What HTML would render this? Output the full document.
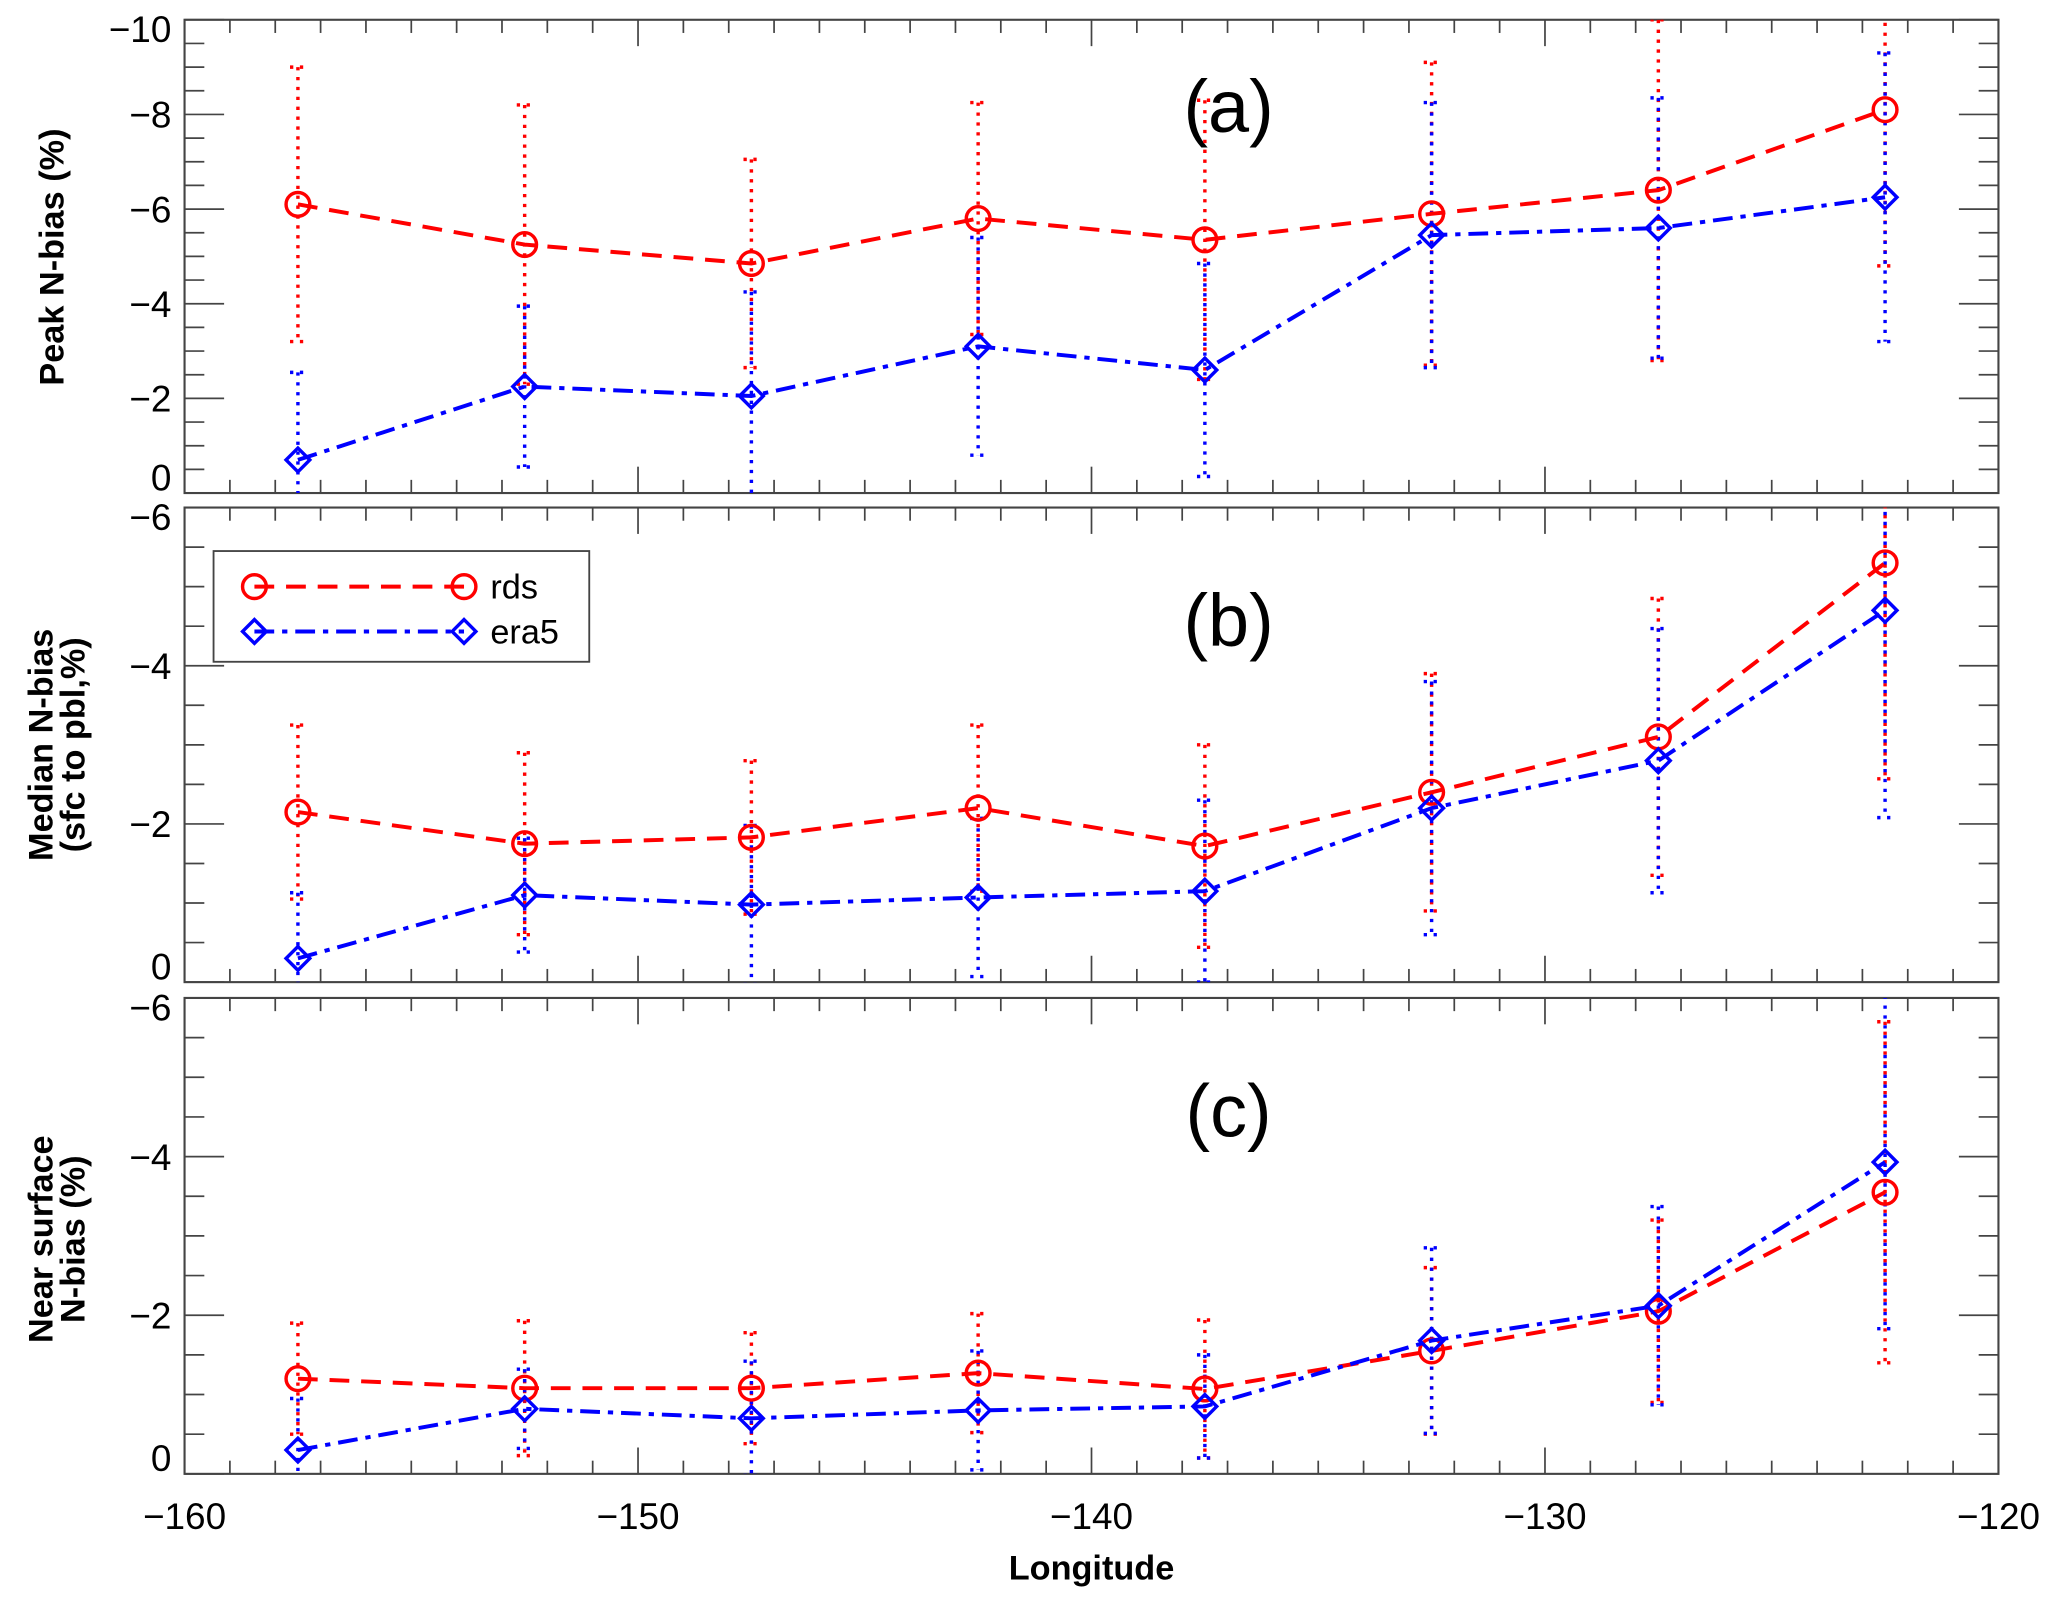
<!DOCTYPE html>
<html><head><meta charset="utf-8"><style>
html,body{margin:0;padding:0;background:#fff;}
svg{display:block;}
text{font-family:"Liberation Sans","DejaVu Sans",sans-serif;fill:#000;}
.ttl{font-family:"Liberation Sans",sans-serif;font-weight:bold;}
</style></head><body>
<svg id="chart" width="2067" height="1607" viewBox="0 0 1568 1219" preserveAspectRatio="none" xmlns="http://www.w3.org/2000/svg"></svg>
<script>
const categories = [-157.5,-152.5,-147.5,-142.5,-137.5,-132.5,-127.5,-122.5];
const xTicks = [-160,-150,-140,-130,-120];
const aYTicks = [-10,-8,-6,-4,-2,0];
const bYTicks = [-6,-4,-2,0];
const cYTicks = [-6,-4,-2,0];
const aRds = [-6.1,-5.25,-4.85,-5.8,-5.35,-5.9,-6.4,-8.1];
const aRdsSd = [2.9,2.95,2.2,2.45,2.95,3.2,3.6,3.3];
const aEra = [-0.7,-2.25,-2.05,-3.1,-2.6,-5.45,-5.6,-6.25];
const aEraSd = [1.85,1.7,2.2,2.3,2.25,2.8,2.75,3.05];
const bRds = [-2.15,-1.75,-1.83,-2.2,-1.72,-2.4,-3.1,-5.3];
const bRdsSd = [1.1,1.15,0.97,1.05,1.28,1.5,1.75,2.73];
const bEra = [-0.3,-1.1,-0.98,-1.07,-1.15,-2.2,-2.8,-4.7];
const bEraSd = [0.83,0.72,1.0,1.0,1.15,1.6,1.67,2.62];
const cRds = [-1.2,-1.08,-1.08,-1.27,-1.07,-1.55,-2.05,-3.55];
const cRdsSd = [0.7,0.85,0.7,0.75,0.87,1.05,1.15,2.15];
const cEra = [-0.3,-0.82,-0.7,-0.8,-0.85,-1.68,-2.12,-3.93];
const cEraSd = [0.65,0.5,0.72,0.75,0.65,1.17,1.25,2.1];

const NS="http://www.w3.org/2000/svg";
const svg=document.getElementById('chart');
function mk(tag,attrs,parent){const e=document.createElementNS(NS,tag);for(const k in attrs)e.setAttribute(k,attrs[k]);(parent||svg).appendChild(e);return e;}
const X0=140,X1=1516,XMIN=-160,XMAX=-120;
function xs(v){return X0+(v-XMIN)/(XMAX-XMIN)*(X1-X0);}

const panels=[
 {id:'a',top:15,bot:374,ymin:-10,ticks:aYTicks,rds:aRds,rsd:aRdsSd,era:aEra,esd:aEraSd,label:'(a)',ly:100},
 {id:'b',top:385,bot:745,ymin:-6,ticks:bYTicks,rds:bRds,rsd:bRdsSd,era:bEra,esd:bEraSd,label:'(b)',ly:490},
 {id:'c',top:757,bot:1118,ymin:-6,ticks:cYTicks,rds:cRds,rsd:cRdsSd,era:cEra,esd:cEraSd,label:'(c)',ly:862}
];
panels.forEach(p=>{
 const ys=v=>p.top+(v-p.ymin)/(0-p.ymin)*(p.bot-p.top);
 const g=mk('g',{});
 
 
 const clipId='clip'+p.id;
 const cp=mk('clipPath',{id:clipId},g);mk('rect',{x:X0,y:p.top,width:X1-X0,height:p.bot-p.top},cp);
 const frame=mk('rect',{x:X0,y:p.top,width:X1-X0,height:p.bot-p.top,fill:'none',stroke:'#444','stroke-width':1.6},g);
 
 
 for(let v=XMIN;v<=XMAX;v+=1){
  const L=(v%10===0)?20:10,x=xs(v);
  mk('line',{x1:x,y1:p.bot,x2:x,y2:p.bot-L,stroke:'#444','stroke-width':1.3},g);
  mk('line',{x1:x,y1:p.top,x2:x,y2:p.top+L,stroke:'#444','stroke-width':1.3},g);
 }
 for(let v=p.ymin;v<=0.001;v+=0.5){
  const maj=Math.abs(v/2-Math.round(v/2))<1e-6;const L=maj?30:15,y=ys(v);
  mk('line',{x1:X0,y1:y,x2:X0+L,y2:y,stroke:'#444','stroke-width':1.3},g);
  mk('line',{x1:X1,y1:y,x2:X1-L,y2:y,stroke:'#444','stroke-width':1.3},g);
 }
 p.ticks.forEach((v,i)=>{
  let y=ys(v)+10; if(i===0) y=ys(v)+17; if(v===0) y=ys(v)-2;
  const t=mk('text',{x:130,y:y,'text-anchor':'end','font-size':28},g);
  t.textContent=v===0?'0':'\u2212'+Math.abs(v);
  
  
 });
 const pl=mk('text',{x:932,y:p.ly,'text-anchor':'middle','font-size':56,'font-weight':'300'},g);
 pl.textContent=p.label;
 
 
 const inner=mk('g',{'clip-path':'url(#'+clipId+')'},g);
 const series=[{v:p.rds,sd:p.rsd,c:'#ff0000',n:'rds'},{v:p.era,sd:p.esd,c:'#0000ff',n:'era5'}];
 series.forEach(s=>{
  s.v.forEach((v,i)=>{
   const x=xs(categories[i]),y1=ys(v-s.sd[i]),y2=ys(v+s.sd[i]);
   const eb=mk('line',{x1:x,y1:y1,x2:x,y2:y2,stroke:s.c,'stroke-width':2.6,'stroke-dasharray':'2.5,5'},inner);
   
   
   [y1,y2].forEach(yy=>{mk('line',{x1:x-6,y1:yy,x2:x+6,y2:yy,stroke:s.c,'stroke-width':2.6,'stroke-dasharray':'2.5,5'},inner);});
  });
 });
 series.forEach(s=>{
  const pts=s.v.map((v,i)=>xs(categories[i])+','+ys(v)).join(' ');
  const ln=mk('polyline',{points:pts,fill:'none',stroke:s.c,'stroke-width':3,'stroke-dasharray':s.n==='rds'?'15,9':'15,6,4,6'},inner);
  
  
  s.v.forEach((v,i)=>{
   const x=xs(categories[i]),y=ys(v);let m;
   if(s.n==='rds') m=mk('circle',{cx:x,cy:y,r:9,fill:'none',stroke:s.c,'stroke-width':2.6},inner);
   else m=mk('polygon',{points:`${x},${y-9} ${x+9},${y} ${x},${y+9} ${x-9},${y}`,fill:'none',stroke:s.c,'stroke-width':2.6},inner);
   
   
  });
 });
});
xTicks.forEach(v=>{
 const t=mk('text',{x:xs(v),y:1160,'text-anchor':'middle','font-size':28});
 t.textContent='\u2212'+Math.abs(v);
 
 
});
</script>
<svg style="position:absolute;left:0;top:0" width="2067" height="1607" viewBox="0 0 1568 1219" preserveAspectRatio="none">
 <text class="ttl" x="828" y="1198" text-anchor="middle" font-size="26">Longitude</text>
 <text class="ttl" transform="translate(48,195) rotate(-90)" text-anchor="middle" font-size="26">Peak N-bias (%)</text>
 <text class="ttl" transform="translate(40,565) rotate(-90)" text-anchor="middle" font-size="26">Median N-bias</text>
 <text class="ttl" transform="translate(64,565) rotate(-90)" text-anchor="middle" font-size="26">(sfc to pbl,%)</text>
 <text class="ttl" transform="translate(40,940) rotate(-90)" text-anchor="middle" font-size="26">Near surface</text>
 <text class="ttl" transform="translate(64,940) rotate(-90)" text-anchor="middle" font-size="26">N-bias (%)</text>
 <g>
  <rect x="162" y="418" width="285" height="84" fill="#fff" stroke="#444" stroke-width="1.4"/>
  <line x1="193" y1="445" x2="352" y2="445" stroke="#ff0000" stroke-width="3" stroke-dasharray="15,9"/>
  <circle cx="193" cy="445" r="9" fill="none" stroke="#ff0000" stroke-width="2.6"/>
  <circle cx="352" cy="445" r="9" fill="none" stroke="#ff0000" stroke-width="2.6"/>
  <text x="372" y="454" font-size="26">rds</text>
  <line x1="193" y1="479" x2="352" y2="479" stroke="#0000ff" stroke-width="3" stroke-dasharray="15,6,4,6"/>
  <polygon points="193,470 202,479 193,488 184,479" fill="none" stroke="#0000ff" stroke-width="2.6"/>
  <polygon points="352,470 361,479 352,488 343,479" fill="none" stroke="#0000ff" stroke-width="2.6"/>
  <text x="372" y="488" font-size="26">era5</text>
 </g>
</svg>
</body></html>
